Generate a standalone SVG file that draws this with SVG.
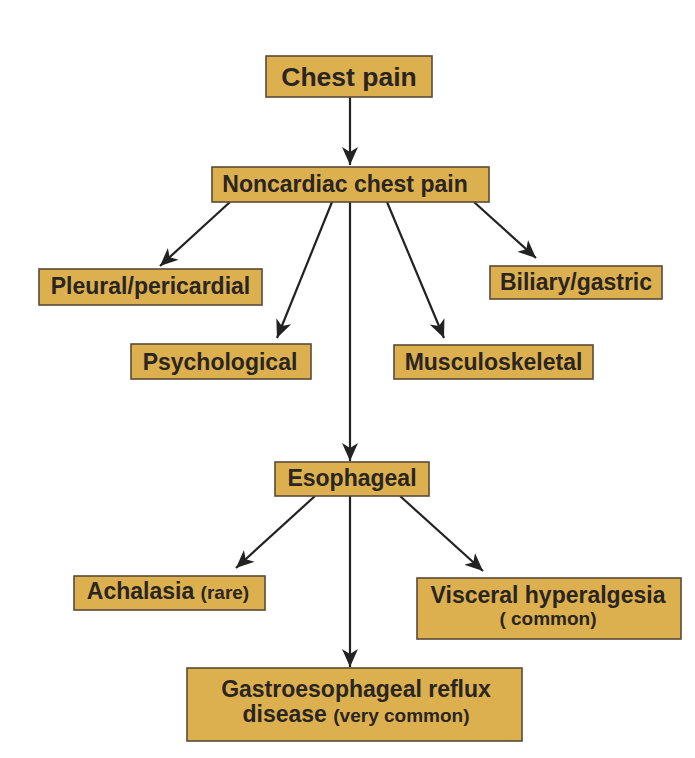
<svg xmlns="http://www.w3.org/2000/svg" width="695" height="758" viewBox="0 0 695 758">
<style>
.box{fill:#DCB04F;stroke:#5a4a38;stroke-width:1.6}
.t{font-family:"Liberation Sans",Arial,sans-serif;font-weight:bold;fill:#2a2520;text-anchor:middle;font-size:23px}
.s{font-size:19px}
.c{stroke:#222;stroke-width:2.2;fill:none;marker-end:url(#ah)}
</style>
<defs>
<marker id="ah" markerUnits="userSpaceOnUse" markerWidth="20" markerHeight="18" refX="18" refY="8.5" orient="auto">
<path d="M0,0.5 L18,8.5 L0,16.5 L5,8.5 z" fill="#222"/>
</marker>
</defs>
<rect width="695" height="758" fill="#fff"/>
<g id="connectors">
<line class="c" x1="350" y1="97" x2="350" y2="165"/>
<line class="c" x1="230" y1="202" x2="160" y2="266"/>
<line class="c" x1="332" y1="202" x2="277" y2="338"/>
<line class="c" x1="350" y1="202" x2="350" y2="461"/>
<line class="c" x1="387" y1="202" x2="444" y2="338"/>
<line class="c" x1="474" y1="202" x2="536" y2="258"/>
<line class="c" x1="315" y1="496" x2="236" y2="568"/>
<line class="c" x1="350" y1="496" x2="350" y2="667"/>
<line class="c" x1="400" y1="496" x2="483" y2="571"/>
</g>
<g id="chest-pain">
<rect class="box" x="266" y="56" width="166" height="41"/>
<text class="t" x="349" y="86" style="font-size:26.5px">Chest pain</text>
</g>
<g id="noncardiac">
<rect class="box" x="212" y="167" width="277" height="35"/>
<text class="t" x="345" y="192">Noncardiac chest pain</text>
</g>
<g id="pleural">
<rect class="box" x="39" y="269" width="223" height="36"/>
<text class="t" x="150.5" y="294">Pleural/pericardial</text>
</g>
<g id="psychological">
<rect class="box" x="131" y="344" width="180" height="35"/>
<text class="t" x="220" y="370">Psychological</text>
</g>
<g id="biliary">
<rect class="box" x="490" y="266" width="172" height="33"/>
<text class="t" x="576" y="289.5">Biliary/gastric</text>
</g>
<g id="musculoskeletal">
<rect class="box" x="394" y="345" width="199" height="34"/>
<text class="t" x="493.5" y="370">Musculoskeletal</text>
</g>
<g id="esophageal">
<rect class="box" x="275" y="462" width="154" height="34"/>
<text class="t" x="352" y="486">Esophageal</text>
</g>
<g id="achalasia">
<rect class="box" x="74" y="576" width="191" height="34"/>
<text class="t" x="168" y="599">Achalasia <tspan class="s">(rare)</tspan></text>
</g>
<g id="visceral">
<rect class="box" x="417" y="578" width="264" height="61"/>
<text class="t" x="548" y="603">Visceral hyperalgesia</text>
<text class="t s" x="548" y="625">( common)</text>
</g>
<g id="gerd">
<rect class="box" x="187" y="668" width="335" height="73"/>
<text class="t" x="356" y="697">Gastroesophageal reflux</text>
<text class="t" x="356" y="722">disease <tspan class="s">(very common)</tspan></text>
</g>
</svg>
